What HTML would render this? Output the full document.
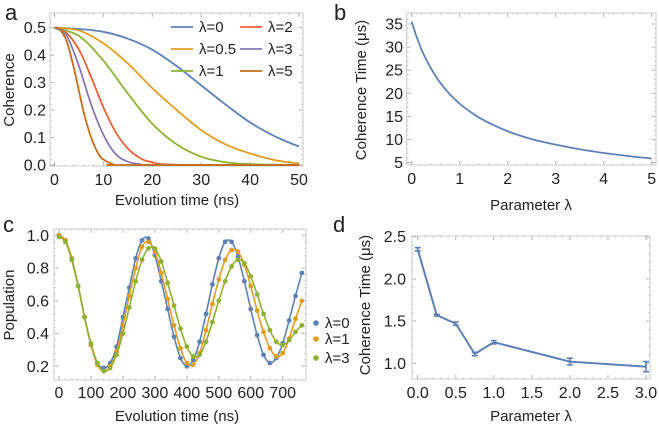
<!DOCTYPE html>
<html><head><meta charset="utf-8"><style>
body{margin:0;background:#fff;}
svg{display:block;font-family:"Liberation Sans",sans-serif;}
</style></head><body>
<svg id="s" width="659" height="428" viewBox="0 0 659 428" xmlns="http://www.w3.org/2000/svg"></svg>
<script>
// ---- Panel a data ----
const aLabels=["λ=0","λ=0.5","λ=1","λ=2","λ=3","λ=5"];
const aT0=[0,5,10,15,20,25,30,35,40,45,50];
const aY0=[0.5,0.495,0.485,0.46,0.42,0.36,0.29,0.22,0.155,0.105,0.067];
const aT1=[0,5,10,15,20,25,30,35,40,45,50];
const aY1=[0.5,0.49,0.443,0.37,0.28,0.2,0.127,0.075,0.042,0.018,0.005];
const aT2=[0,5,10,15,20,25,30,35,40,50];
const aY2=[0.5,0.47,0.38,0.26,0.15,0.075,0.03,0.01,0.003,0];
const aT3=[0,2.5,5,7.5,10,12.5,15,17.5,20,25,50];
const aY3=[0.5,0.48,0.42,0.32,0.21,0.12,0.06,0.025,0.01,0.001,0];
const aT4=[0,2.5,5,7.5,10,12.5,15,17.5,20,50];
const aY4=[0.5,0.47,0.36,0.22,0.11,0.04,0.012,0.003,0,0];
const aT5=[0,1,2.5,4,5,6,7.5,9,10,12,14,50];
const aY5=[0.5,0.495,0.45,0.35,0.27,0.19,0.1,0.04,0.02,0.003,0,0];
// ---- Panel b data ----
const bX=[0,0.1,0.25,0.5,0.75,1,1.25,1.5,2,2.5,3,3.5,4,4.5,5];
const bY=[35.5,32.3,28.4,23.7,20.3,17.75,15.8,14.2,11.8,10.1,8.9,7.9,7.1,6.45,5.9];
// ---- Panel c data ----
const cT=[0,20,40,60,80,100,120,140,160,180,200,220,240,260,280,300,320,340,360,380,400,420,440,460,480,500,520,540,560,580,600,620,640,660,680,700,720,740,760];
const cB=[1.0,0.97,0.85,0.69,0.5,0.33,0.22,0.19,0.22,0.32,0.5,0.68,0.86,0.97,0.98,0.88,0.72,0.55,0.38,0.25,0.2,0.24,0.35,0.52,0.7,0.86,0.96,0.96,0.87,0.72,0.55,0.39,0.27,0.22,0.25,0.34,0.48,0.63,0.77];
const cO=[1.0,0.97,0.86,0.69,0.5,0.33,0.21,0.17,0.2,0.29,0.45,0.63,0.8,0.93,0.96,0.9,0.77,0.61,0.45,0.31,0.22,0.21,0.28,0.42,0.58,0.73,0.85,0.91,0.9,0.82,0.69,0.54,0.41,0.31,0.26,0.28,0.37,0.49,0.6];
const cG=[0.99,0.96,0.85,0.69,0.5,0.34,0.22,0.17,0.19,0.27,0.4,0.56,0.72,0.85,0.92,0.92,0.84,0.71,0.57,0.43,0.32,0.26,0.27,0.35,0.47,0.6,0.72,0.81,0.85,0.83,0.75,0.64,0.52,0.42,0.35,0.33,0.36,0.41,0.45];
const cLabels=["λ=0","λ=1","λ=3"];
// ---- Panel d data ----
const dX=[0,0.25,0.5,0.75,1,2,3];
const dY=[2.35,1.57,1.47,1.11,1.25,1.02,0.96];
const dE=[0.02,0.01,0.02,0.02,0.02,0.04,0.06];

const NS="http://www.w3.org/2000/svg";
const svg=document.getElementById('s');
const TK=16, TT=15;
function mk(tag,attrs,parent){const e=document.createElementNS(NS,tag);for(const k in attrs)e.setAttribute(k,attrs[k]);(parent||svg).appendChild(e);return e;}
function txt(s,x,y,opt,name){const e=mk('text',Object.assign({x:x,y:y,'font-size':TK,fill:'#222'},opt||{}));e.textContent=s;


return e;}
function lin(d0,d1,r0,r1){return v=>r0+(v-d0)*(r1-r0)/(d1-d0);}
function smooth(px,py){let d='M'+px[0].toFixed(2)+','+py[0].toFixed(2);
for(let i=0;i<px.length-1;i++){const x0=px[Math.max(i-1,0)],y0=py[Math.max(i-1,0)],x1=px[i],y1=py[i],x2=px[i+1],y2=py[i+1],x3=px[Math.min(i+2,px.length-1)],y3=py[Math.min(i+2,px.length-1)];
d+=' C'+(x1+(x2-x0)/6).toFixed(2)+','+(y1+(y2-y0)/6).toFixed(2)+' '+(x2-(x3-x1)/6).toFixed(2)+','+(y2-(y3-y1)/6).toFixed(2)+' '+x2.toFixed(2)+','+y2.toFixed(2);}
return d;}
function frame(x0,y0,x1,y1,name){const r=mk('rect',{x:x0,y:y0,width:x1-x0,height:y1-y0,fill:'none',stroke:'#c8c8c8','stroke-width':1});

}
function xticks(ticks,labels,sx,y0,y1,ty,minor,name){ticks.forEach((t,i)=>{mk('line',{x1:sx(t),x2:sx(t),y1:y1,y2:y1-4,stroke:'#aaa'});mk('line',{x1:sx(t),x2:sx(t),y1:y0,y2:y0+4,stroke:'#aaa'});
txt(labels[i],sx(t),ty,{'text-anchor':'middle'},name);});
(minor||[]).forEach(t=>{mk('line',{x1:sx(t),x2:sx(t),y1:y1,y2:y1-2,stroke:'#ccc'});mk('line',{x1:sx(t),x2:sx(t),y1:y0,y2:y0+2,stroke:'#ccc'});});}
function yticks(ticks,labels,sy,x0,x1,tx,minor,name){ticks.forEach((t,i)=>{mk('line',{x1:x0,x2:x0+4,y1:sy(t),y2:sy(t),stroke:'#aaa'});mk('line',{x1:x1,x2:x1-4,y1:sy(t),y2:sy(t),stroke:'#aaa'});
txt(labels[i],tx,sy(t)+5.5,{'text-anchor':'end'},name);});
(minor||[]).forEach(t=>{mk('line',{x1:x0,x2:x0+2,y1:sy(t),y2:sy(t),stroke:'#ccc'});mk('line',{x1:x1,x2:x1-2,y1:sy(t),y2:sy(t),stroke:'#ccc'});});}
function range(a,b,s){const r=[];for(let v=a;v<=b+1e-9;v+=s)r.push(+v.toFixed(4));return r;}
function ytitle(s,x,cy,name){txt(s,x,cy,{'text-anchor':'middle','font-size':TT,transform:'rotate(-90 '+x+' '+cy+')'},name);}

// ===== Panel a =====
txt('a',5,20,{'font-size':22},'panel-a-label');
frame(50,13,303,166,'panel-a-frame');
const ax=lin(0,50,54.5,299), ay=lin(0,0.5,165,27.7);
xticks([0,10,20,30,40,50],['0','10','20','30','40','50'],ax,13,166,185,range(2,48,2),'a-x-tick');
yticks([0,0.1,0.2,0.3,0.4,0.5],['0.0','0.1','0.2','0.3','0.4','0.5'],ay,50,303,46,range(0.02,0.52,0.02),'a-y-tick');
const aCols=['#5e81b5','#e19c24','#8fb032','#eb6235','#8778b3','#c56e1a'];
const aTs=[aT0,aT1,aT2,aT3,aT4,aT5], aYs=[aY0,aY1,aY2,aY3,aY4,aY5];
aTs.forEach((T,k)=>{const p=mk('path',{d:smooth(T.map(ax),aYs[k].map(ay)),fill:'none',stroke:aCols[k],'stroke-width':1.8});

});
const aLegPos=[[171,27],[240,27],[171,49],[240,49],[171,71],[240,71]];
const aLegOrder=[0,3,1,4,2,5];
aLegOrder.forEach((k,i)=>{const [lx,ly]=aLegPos[i];mk('line',{x1:lx,x2:lx+22,y1:ly,y2:ly,stroke:aCols[k],'stroke-width':1.8});
txt(aLabels[k],lx+28,ly+5,{'font-size':15},'a-legend-entry');});
ytitle('Coherence',14,90,'a-y-axis-title');
txt('Evolution time (ns)',177,205,{'text-anchor':'middle','font-size':TT},'a-x-axis-title');

// ===== Panel b =====
txt('b',334,20,{'font-size':22},'panel-b-label');
frame(406.7,13,656,165,'panel-b-frame');
const bx=lin(0,5,411.7,651.7), by=lin(5,35,162.7,24);
xticks([0,1,2,3,4,5],['0','1','2','3','4','5'],bx,13,165,184,range(0.2,4.8,0.2),'b-x-tick');
yticks([5,10,15,20,25,30,35],['5','10','15','20','25','30','35'],by,406.7,656,403,range(6,36,1),'b-y-tick');
{const p=mk('path',{d:smooth(bX.map(bx),bY.map(by)),fill:'none',stroke:'#5e81b5','stroke-width':1.8});

}
ytitle('Coherence Time (μs)',366,90,'b-y-axis-title');
txt('Parameter λ',531,210,{'text-anchor':'middle','font-size':TT},'b-x-axis-title');

// ===== Panel c =====
txt('c',3,232,{'font-size':22},'panel-c-label');
frame(54,229,306,380,'panel-c-frame');
const cx=lin(0,700,59,282.7), cy=lin(0.2,1.0,366.3,235.3);
xticks([0,100,200,300,400,500,600,700],['0','100','200','300','400','500','600','700'],cx,229,380,398,range(20,760,20),'c-x-tick');
yticks([0.2,0.4,0.6,0.8,1.0],['0.2','0.4','0.6','0.8','1.0'],cy,54,306,49,range(0.2,1.04,0.04),'c-y-tick');
const cCols=['#5e81b5','#e19c24','#8fb032'];
[cB,cO,cG].forEach((Y,k)=>{const p=mk('path',{d:smooth(cT.map(cx),Y.map(cy)),fill:'none',stroke:cCols[k],'stroke-width':1.6});


Y.forEach((v,i)=>{const c=mk('circle',{cx:cx(cT[i]),cy:cy(v),r:2.4,fill:cCols[k]});

});});
[323,339,358].forEach((ly,k)=>{const c=mk('circle',{cx:316,cy:ly,r:2.8,fill:cCols[k]});


txt(cLabels[k],325,ly+5,{'font-size':15},'c-legend-entry');});
ytitle('Population',14,305,'c-y-axis-title');
txt('Evolution time (ns)',177,421,{'text-anchor':'middle','font-size':TT},'c-x-axis-title');

// ===== Panel d =====
txt('d',333,232,{'font-size':22},'panel-d-label');
frame(412,236,650,379,'panel-d-frame');
const dx=lin(0,3,417.7,646), dy=lin(1.0,2.5,363.3,236.7);
xticks([0,0.5,1,1.5,2,2.5,3],['0.0','0.5','1.0','1.5','2.0','2.5','3.0'],dx,236,379,398,range(0.1,2.9,0.1),'d-x-tick');
yticks([1.0,1.5,2.0,2.5],['1.0','1.5','2.0','2.5'],dy,412,650,406,range(0.9,2.5,0.1),'d-y-tick');
{const p=mk('polyline',{points:dX.map((v,i)=>dx(v)+','+dy(dY[i])).join(' '),fill:'none',stroke:'#5e81b5','stroke-width':2});

}
dX.forEach((v,i)=>{const X=dx(v),t=dy(dY[i]+dE[i]),b=dy(dY[i]-dE[i]);
const g=mk('path',{d:`M${X},${t}V${b}M${X-3},${t}H${X+3}M${X-3},${b}H${X+3}`,stroke:'#5e81b5','stroke-width':1.6,fill:'none'});

});
ytitle('Coherence Time (μs)',370,305,'d-y-axis-title');
txt('Parameter λ',531,421,{'text-anchor':'middle','font-size':TT},'d-x-axis-title');
</script>
</body></html>
